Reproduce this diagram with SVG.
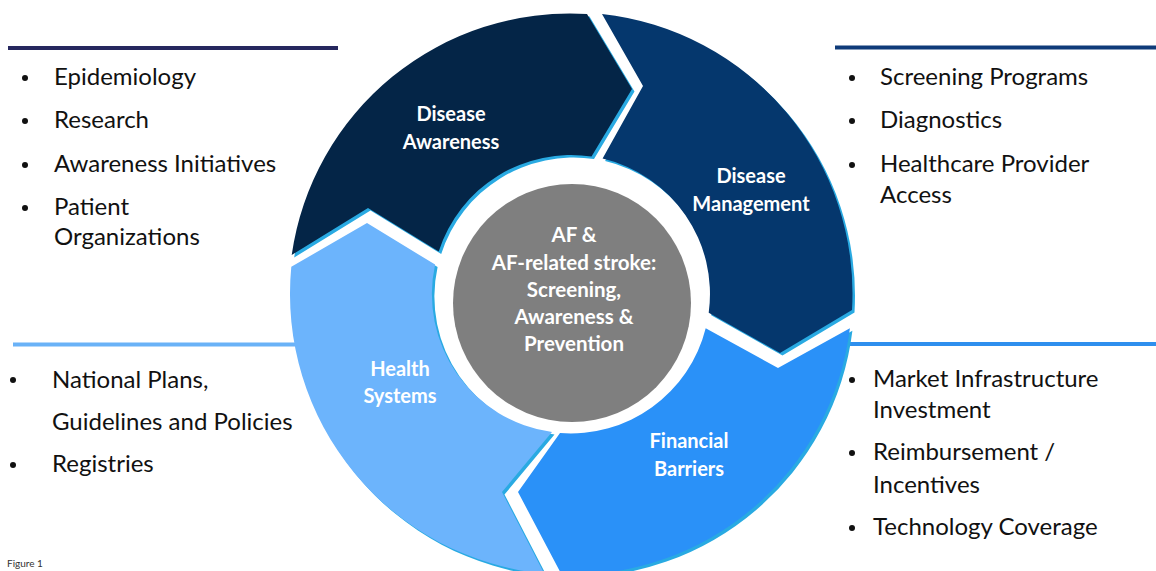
<svg xmlns="http://www.w3.org/2000/svg" xmlns:xlink="http://www.w3.org/1999/xlink" width="1156" height="571" viewBox="0 0 1156 571">
  <style>
    .shade { fill: #29AAE2; }
    .lbl { font-family: Lato, "Liberation Sans", sans-serif; font-weight: 700; font-size: 20px; fill: #ffffff; text-anchor: middle; }
    .hub-txt { font-family: Lato, "Liberation Sans", sans-serif; font-weight: 700; font-size: 20.5px; fill: #ffffff; text-anchor: middle; }
    .item { font-family: Lato, "Liberation Sans", sans-serif; font-size: 24px; fill: #111111; }
    .dot { fill: #111111; }
    .rule { stroke-width: 4; fill: none; }
    .caption { font-family: Lato, "Liberation Sans", sans-serif; font-size: 10px; fill: #333333; }
  </style>
  <defs>
    <!-- ring segments around centre (571,294): outer r 281, inner r 139; each ends in a chevron tip and starts with a chevron notch -->
    <path id="p-awareness" d="M 291.7 255 A 281 281 0 0 1 587 14 L 632 89 L 591.5 156.5 A 139 139 0 0 0 438.7 251.5 L 368 208 Z"/>
    <path id="p-management" d="M 602 14 A 281 281 0 0 1 852 310 L 780 353 L 708.7 312.8 A 139 139 0 0 0 602.6 158.6 L 643 86 Z"/>
    <path id="p-financial" d="M 849.9 328.2 A 281 281 0 0 1 561.7 574.8 L 518 492 L 560 433 A 139 139 0 0 0 705.7 328.2 L 778 368 Z"/>
    <path id="p-health" d="M 544.3 573.7 A 281 281 0 0 1 291.3 266.8 L 367 223 L 435.1 264.6 A 139 139 0 0 0 552 432 L 502 492 Z"/>
  </defs>

  <rect width="1156" height="571" fill="#ffffff"/>

  <!-- section rules -->
  <g id="connectors">
    <line class="rule" x1="8" y1="48" x2="338" y2="48" stroke="#26275E"/>
    <line class="rule" x1="835" y1="47.5" x2="1156" y2="47.5" stroke="#0F3B79"/>
    <line class="rule" x1="13" y1="344.5" x2="305" y2="344.5" stroke="#6AB2F7"/>
    <line class="rule" x1="845" y1="344" x2="1156" y2="344" stroke="#2E8FEE"/>
  </g>

  <g id="seg-awareness">
    <use xlink:href="#p-awareness" class="shade" transform="translate(2.5,2.5)"/>
    <use xlink:href="#p-awareness" fill="#042547"/>
    <text class="lbl" x="451" y="121">Disease</text>
    <text class="lbl" x="451" y="149">Awareness</text>
  </g>

  <g id="seg-management">
    <use xlink:href="#p-management" class="shade" transform="translate(2.5,2.5)"/>
    <use xlink:href="#p-management" fill="#05376D"/>
    <text class="lbl" x="751" y="183">Disease</text>
    <text class="lbl" x="751" y="211">Management</text>
  </g>

  <g id="seg-financial">
    <use xlink:href="#p-financial" class="shade" transform="translate(2.5,2.5)"/>
    <use xlink:href="#p-financial" fill="#2A91F8"/>
    <text class="lbl" x="689" y="448">Financial</text>
    <text class="lbl" x="689" y="476">Barriers</text>
  </g>

  <g id="seg-health">
    <use xlink:href="#p-health" class="shade" transform="translate(2.5,2.5)"/>
    <use xlink:href="#p-health" fill="#6CB4FC"/>
    <text class="lbl" x="400" y="376">Health</text>
    <text class="lbl" x="400" y="403">Systems</text>
  </g>

  <g id="hub">
    <circle cx="572" cy="303" r="119" fill="#7F7F7F"/>
    <text class="hub-txt" x="574" y="242">AF &amp;</text>
    <text class="hub-txt" x="574" y="269.5">AF-related stroke:</text>
    <text class="hub-txt" x="574" y="297">Screening,</text>
    <text class="hub-txt" x="574" y="324">Awareness &amp;</text>
    <text class="hub-txt" x="574" y="351">Prevention</text>
  </g>

  <g id="list-awareness">
    <circle class="dot" cx="25" cy="78" r="3"/>
    <text class="item" x="54" y="85">Epidemiology</text>
    <circle class="dot" cx="25" cy="121" r="3"/>
    <text class="item" x="54" y="128">Research</text>
    <circle class="dot" cx="25" cy="165" r="3"/>
    <text class="item" x="54" y="172">Awareness Initiatives</text>
    <circle class="dot" cx="25" cy="208" r="3"/>
    <text class="item" x="54" y="215">Patient</text>
    <text class="item" x="54" y="245">Organizations</text>
  </g>

  <g id="list-management">
    <circle class="dot" cx="852" cy="78" r="3"/>
    <text class="item" x="880" y="85">Screening Programs</text>
    <circle class="dot" cx="852" cy="121" r="3"/>
    <text class="item" x="880" y="128">Diagnostics</text>
    <circle class="dot" cx="852" cy="165" r="3"/>
    <text class="item" x="880" y="172">Healthcare Provider</text>
    <text class="item" x="880" y="203">Access</text>
  </g>

  <g id="list-health">
    <circle class="dot" cx="13" cy="380" r="3"/>
    <text class="item" x="52" y="388">National Plans,</text>
    <text class="item" x="52" y="430">Guidelines and Policies</text>
    <circle class="dot" cx="13" cy="465" r="3"/>
    <text class="item" x="52" y="472">Registries</text>
  </g>

  <g id="list-financial">
    <circle class="dot" cx="852" cy="380" r="3"/>
    <text class="item" x="873" y="387">Market Infrastructure</text>
    <text class="item" x="873" y="418">Investment</text>
    <circle class="dot" cx="852" cy="453" r="3"/>
    <text class="item" x="873" y="460">Reimbursement /</text>
    <text class="item" x="873" y="493">Incentives</text>
    <circle class="dot" cx="852" cy="528" r="3"/>
    <text class="item" x="873" y="535">Technology Coverage</text>
  </g>

  <text class="caption" x="7" y="567">Figure 1</text>
</svg>
